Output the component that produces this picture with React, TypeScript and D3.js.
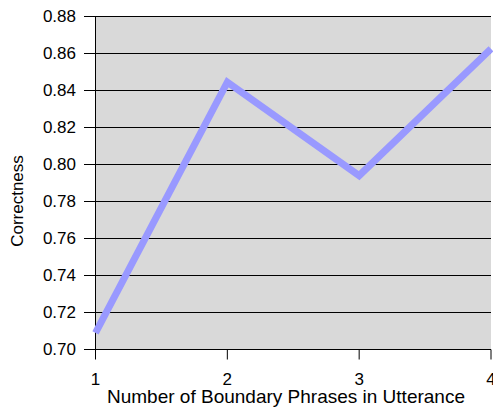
import React from "react";
import * as d3 from "d3";

const xValues = [1, 2, 3, 4];
const correctness = [0.709, 0.8445, 0.794, 0.8625];
const yTicks = [0.7, 0.72, 0.74, 0.76, 0.78, 0.8, 0.82, 0.84, 0.86, 0.88];
const xTicks = [1, 2, 3, 4];

export default function App() {
  const W = 493, H = 408;
  const left = 95.5, right = 491, top = 16.5, bottom = 349.5;
  const x = d3.scaleLinear().domain([1, 4]).range([left, right]);
  const y = d3.scaleLinear().domain([0.7, 0.88]).range([bottom, top]);
  const line = d3.line<number>().x((_, i) => x(xValues[i])).y((d) => y(d));
  const font = "Arial, 'Liberation Sans', sans-serif";
  return (
    <svg width={W} height={H} style={{ position: "absolute", left: 0, top: 0 }}>
      <rect x={left} y={top} width={right - left} height={bottom - top} fill="#d9d9d9" />
      {yTicks.map((t) => (
        <g key={t}>
          <line x1={84} x2={right} y1={y(t)} y2={y(t)} stroke="#000" strokeWidth={1} />
          <text x={76} y={y(t)} dy="0.35em" textAnchor="end" fontFamily={font} fontSize={17} fill="#000">
            {t.toFixed(2)}
          </text>
        </g>
      ))}
      <line x1={left} x2={left} y1={top} y2={bottom} stroke="#000" strokeWidth={1} />
      {xTicks.map((t) => (
        <g key={t}>
          <line x1={x(t)} x2={x(t)} y1={bottom} y2={bottom + 10} stroke="#000" strokeWidth={1} />
          <text x={x(t)} y={385} textAnchor="middle" fontFamily={font} fontSize={17} fill="#000">
            {t}
          </text>
        </g>
      ))}
      <path d={line(correctness) || ""} fill="none" stroke="#9999ff" strokeWidth={7} strokeLinejoin="miter" />
      <text x={286} y={403} textAnchor="middle" fontFamily={font} fontSize={19} fill="#000">
        Number of Boundary Phrases in Utterance
      </text>
      <text transform={`translate(23,${(top + bottom) / 2 + 18}) rotate(-90)`} textAnchor="middle" fontFamily={font} fontSize={17} fill="#000">
        Correctness
      </text>
    </svg>
  );
}
